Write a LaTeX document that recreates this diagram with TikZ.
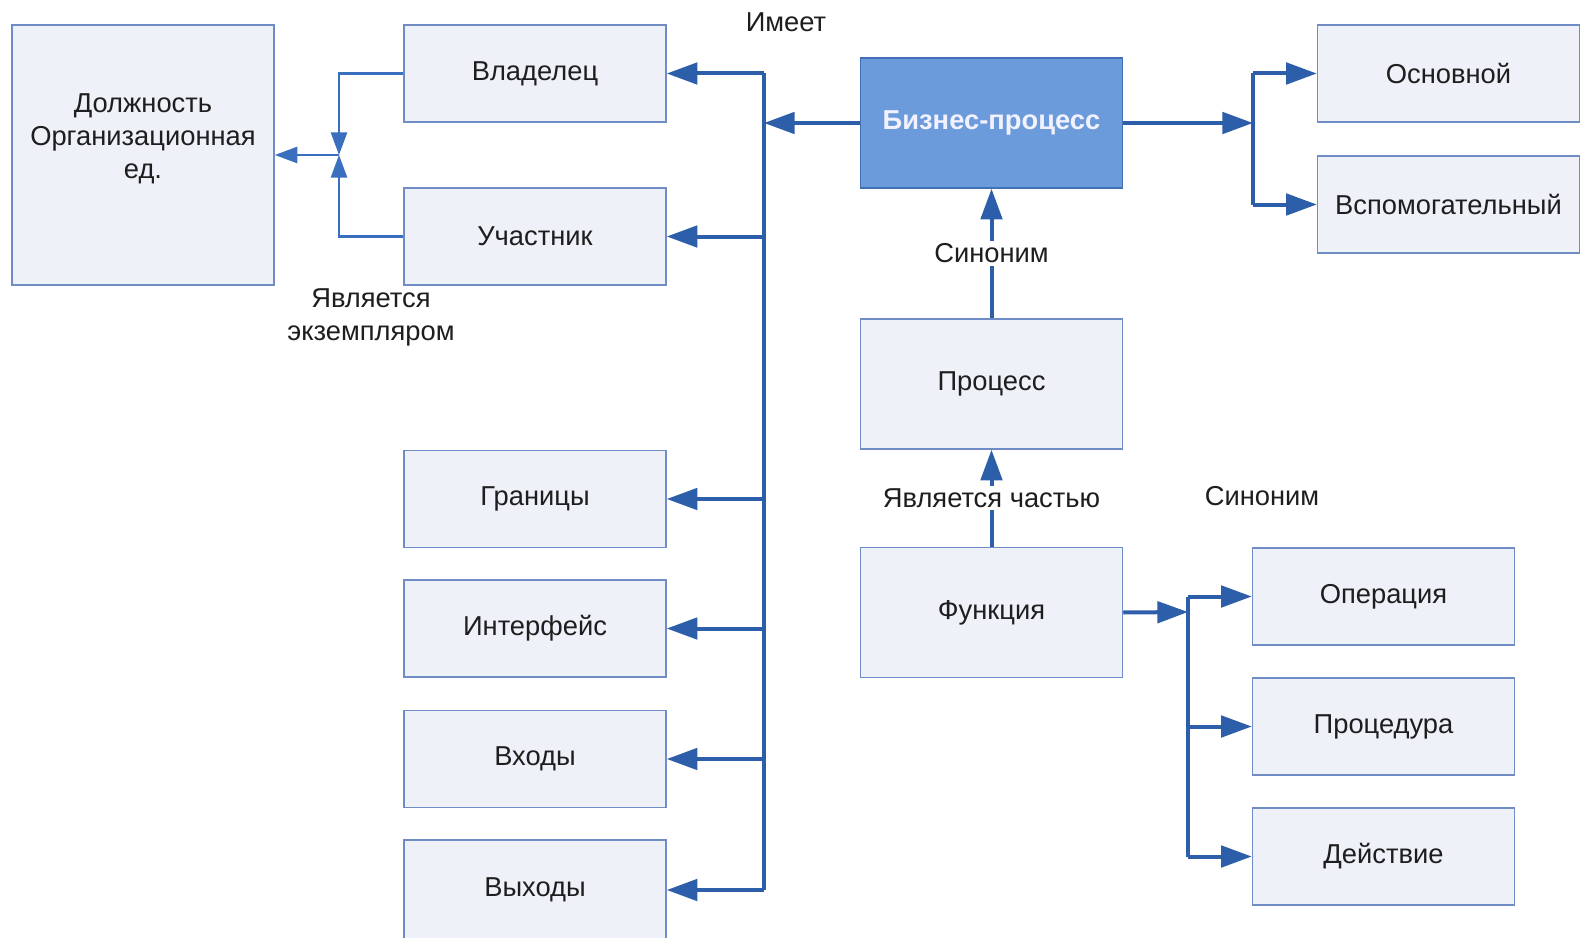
\documentclass[tikz,border=0pt]{standalone}
\usepackage{fontspec}
\setmainfont{Liberation Sans}
\usetikzlibrary{arrows.meta}

\definecolor{boxfill}{HTML}{EEF1F8}
\definecolor{boxline}{HTML}{6F8CC6}
\definecolor{bpfill}{HTML}{6C9BDB}
\definecolor{bpline}{HTML}{4270B8}
\definecolor{linkcol}{HTML}{2C5EAA}
\definecolor{thincol}{HTML}{3A6EBE}
\definecolor{txt}{HTML}{1E1E1E}

\tikzset{
  base/.style={font=\fontsize{20.5}{24.75}\selectfont, text=txt},
  box/.style={base, draw=boxline, fill=boxfill, line width=1.1pt,
    minimum width=196.5pt, minimum height=72.75pt, inner sep=0pt},
  tallbox/.style={box, minimum height=97.5pt},
  keybox/.style={tallbox, draw=bpline, fill=bpfill, text=white!95!blue,
    font=\fontsize{20.5}{24.75}\selectfont\bfseries},
  link/.style={draw=linkcol, line width=3pt,
    -{Triangle[length=23pt,width=16pt]}},
  trunk/.style={draw=linkcol, line width=3pt},
  thinlink/.style={draw=thincol, line width=2.1pt,
    -{Triangle[length=17pt,width=12pt]}},
  rel/.style={base, fill=white, inner sep=2pt},
}

\begin{document}
\begin{tikzpicture}[x=0.75pt, y=-0.75pt]
  \fill[white] (0,0) rectangle (1584,938);
  \useasboundingbox (0,0) rectangle (1584,938);

  % left column: position and the attributes owned by a business process
  \node[box, minimum height=195pt] (dolzh) at (143,155) {};
  \node[base, align=center] (dolzhtxt) at (143,139)
    {Должность\\Организационная\\ед.};
  \node[box] (vlad) at (535,73.5) {Владелец};
  \node[box] (uch)  at (535,236.5) {Участник};
  \node[box] (gran) at (535,499) {Границы};
  \node[box] (intf) at (535,628.5) {Интерфейс};
  \node[box] (vhod) at (535,759) {Входы};
  \node[box, minimum height=75pt] (vyh) at (535,890) {Выходы};

  % central column
  \node[keybox] (bp)   at (991.5,123) {Бизнес-процесс};
  \node[tallbox] (proc) at (991.5,384) {Процесс};
  \node[tallbox] (func) at (991.5,612.5) {Функция};

  % right column
  \node[box] (osn)   at (1448.5,73.5) {Основной};
  \node[box] (vsp)   at (1448.5,204.5) {Вспомогательный};
  \node[box] (oper)  at (1383.5,596.5) {Операция};
  \node[box] (procd) at (1383.5,726.5) {Процедура};
  \node[box] (deyst) at (1383.5,856.5) {Действие};

  % junction points
  \coordinate (bus) at (764,123);
  \coordinate (split) at (1253,123);
  \coordinate (fsplit) at (1188,612);
  \coordinate (join) at (339,155);

  % "has" bus
  \draw[link] (bp.west) -- (bus);
  \draw[trunk] (vlad.east -| bus) -- (vyh.east -| bus);
  \foreach \n in {vlad,uch,gran,intf,vhod,vyh}
    \draw[link] (\n.east -| bus) -- (\n.east);
  \node[base] (imeet) at (786,22) {Имеет};

  % kinds of business process
  \draw[link] (bp.east) -- (split);
  \draw[trunk] (osn.west -| split) -- (vsp.west -| split);
  \draw[link] (osn.west -| split) -- (osn.west);
  \draw[link] (vsp.west -| split) -- (vsp.west);

  % synonym and part-of relations
  \draw[link] (proc.north) -- node[rel] (sin1) {Синоним} (bp.south);
  \draw[link] (func.north) -- node[rel] (part) {Является частью} (proc.south);

  % function branches
  \draw[link] (func.east) -- (fsplit);
  \draw[trunk] (oper.west -| fsplit) -- (deyst.west -| fsplit);
  \foreach \n in {oper,procd,deyst}
    \draw[link] (\n.west -| fsplit) -- (\n.west);
  \node[base] (sin2) at (1262,496) {Синоним};

  % instance-of relation
  \draw[thinlink] (vlad.west) -| (join);
  \draw[thinlink] (uch.west) -| (join);
  \draw[thinlink] (join) -- (dolzh.east |- join);
  \node[base, align=center] (ekz) at (371,317) {Является\\экземпляром};
\end{tikzpicture}
\end{document}
